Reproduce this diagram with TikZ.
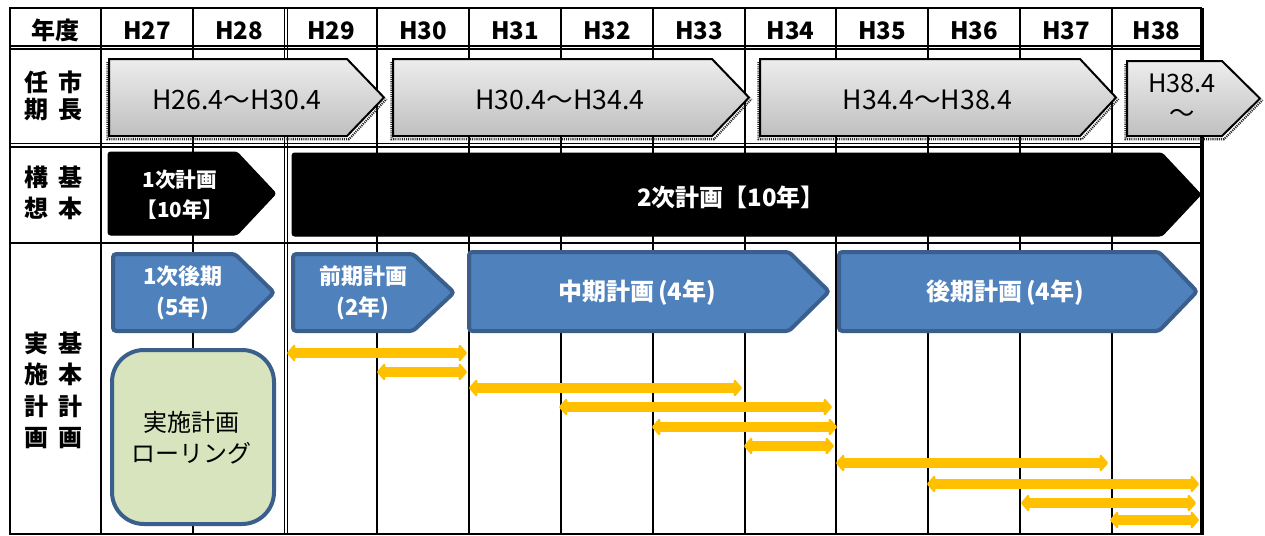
\documentclass[tikz,border=0pt]{standalone}
\usepackage{fontspec}
\setmainfont{Noto Sans CJK JP}
\usetikzlibrary{arrows.meta}
\definecolor{blfill}{HTML}{4F81BD}
\definecolor{bldraw}{HTML}{3A5F8D}
\definecolor{grfill}{HTML}{D7E4BD}
\definecolor{yel}{HTML}{FFC000}
\newcommand{\penta}[5]{(#1,#2) -- (#3,#2) -- (#4,{(#2+#5)/2}) -- (#3,#5) -- (#1,#5) -- cycle}
\newcommand{\pshadow}[5]{(#1-1.5,#2+3) -- (#1-1.5,#5+3.2) -- (#3+2,#5+3.2) -- (#4+2.5,{(#2+#5)/2+1.5})}
\begin{document}
\begin{tikzpicture}[x=0.75pt,y=-0.75pt,
  gridline/.style={line width=1pt, draw=black},
  hdr/.style={font=\bfseries\fontsize{18}{20}\selectfont},
  rowlbl/.style={font=\bfseries\fontsize{18}{#1}\selectfont, align=center},
  greyarrow/.style={draw=black, line width=1.5pt, top color=black!7, bottom color=black!25},
  greyshadow/.style={draw=black!85, line width=1.6pt, dash pattern=on 0.8pt off 0.8pt},
  greytext/.style={font=\fontsize{20}{22.5}\selectfont, align=center},
  blackarrow/.style={fill=black, draw=black, line width=0.75pt, rounded corners=2pt},
  whitetext/.style={text=white, font=\bfseries\fontsize{#1}{22.5}\selectfont, align=center},
  bluearrow/.style={fill=blfill, draw=bldraw, line width=3pt, rounded corners=2.5pt},
  bluetext/.style={text=white, font=\bfseries\fontsize{#1}{23}\selectfont, align=center},
  rollbox/.style={fill=grfill, draw=bldraw, line width=3pt, rounded corners=24pt},
  rolltext/.style={font=\fontsize{18}{23}\selectfont, align=center},
  yarrow/.style={draw=yel, line width=7.3pt, {Triangle[round,width=14.5pt,length=6.5pt]}-{Triangle[round,width=14.5pt,length=6.5pt]}},
]
\useasboundingbox (0,0) rectangle (1265,536);
\fill[white] (0,0) rectangle (1265,536);

% ---------- grid ----------
\foreach \x in {101,193,284.3,287.5,377,469,561,653,745,836,928,1020,1112}
  \draw[gridline] (\x,8) -- (\x,534);
\draw[line width=2pt] (10,46) -- (1201,46);
\draw[line width=0.8pt] (10,49) -- (1201,49);
\draw[line width=1.2pt] (10,143.5) -- (1201,143.5);
\draw[line width=1.2pt] (10,147) -- (1201,147);
\draw[line width=1.5pt] (10,242.5) -- (1201,242.5);
\draw[line width=2pt] (10,8) rectangle (1201,534);
\draw[line width=3pt] (1201.5,8) -- (1201.5,535);

% ---------- header ----------
\node[hdr] (hyear) at (55.5,30) {年度};
\foreach \n/\x in {27/147,28/239,29/331,30/423,31/515,32/607,33/699,34/790.5,35/882,36/974,37/1066,38/1156.5}
  \node[hdr] (h\n) at (\x,31) {H\n};

% ---------- row labels ----------
\node[rowlbl=20.25pt] (lmayor) at (54,95.5) {任\hspace{7.5pt}市\\期\hspace{7.5pt}長};
\node[rowlbl=23.25pt] (lbasic) at (54,193) {構\hspace{7.5pt}基\\想\hspace{7.5pt}本};
\node[rowlbl=23.5pt] (limpl) at (54,390.5) {実\hspace{7.5pt}基\\施\hspace{7.5pt}本\\計\hspace{7.5pt}計\\画\hspace{7.5pt}画};

% ---------- mayor terms (grey) ----------
\draw[greyshadow] \pshadow{109}{59}{347}{384}{136};
\path[greyarrow] \penta{109}{59}{347}{384}{136};
\draw[greyshadow] \pshadow{393}{59}{712}{749}{136};
\path[greyarrow] \penta{393}{59}{712}{749}{136};
\draw[greyshadow] \pshadow{760}{59}{1080}{1116}{136};
\path[greyarrow] \penta{760}{59}{1080}{1116}{136};
\draw[greyshadow] \pshadow{1127}{61}{1222}{1260}{136};
\path[greyarrow] \penta{1127}{61}{1222}{1260}{136};
\node[greytext] (t1) at (237,100) {H26.4～H30.4};
\node[greytext] (t2) at (560,100) {H30.4～H34.4};
\node[greytext] (t3) at (927.5,100) {H34.4～H38.4};
\node[greytext, font=\fontsize{19}{22.5}\selectfont] (t4) at (1182,98.5) {H38.4\\～};

% ---------- basic plan (black) ----------
\path[blackarrow] \penta{108}{152}{237}{276}{235};
\path[blackarrow] \penta{292}{153}{1162}{1201}{236};
\node[whitetext=15.5pt] (b1) at (180,195) {1次計画\\【10年】};
\node[whitetext=18pt] (b2) at (731,197) {2次計画【10年】};

% ---------- implementation plan (blue) ----------
\path[bluearrow] \penta{113}{254}{235}{274}{331};
\path[bluearrow] \penta{293}{254}{413}{454}{331};
\path[bluearrow] \penta{469}{252}{789}{829}{331};
\path[bluearrow] \penta{839}{252}{1159}{1197}{331};
\node[bluetext=16.5pt] (p1) at (183,292.5) {1次後期\\(5年)};
\node[bluetext=16.5pt] (p2) at (363,292.5) {前期計画\\(2年)};
\node[bluetext=18pt] (p3) at (637,293) {中期計画\,(4年)};
\node[bluetext=18pt] (p4) at (1005,293) {後期計画\,(4年)};

% ---------- rolling box ----------
\path[rollbox] (112,350) rectangle (274,524);
\node[rolltext] (roll) at (191,437.5) {実施計画\\ローリング};

% ---------- yellow spans ----------
\foreach \i/\a/\b/\y in {1/287/467/353, 2/377/467/372, 3/469/742/388, 4/559/832/407,
  5/652/837/427, 6/744/834/446, 7/836/1108/463, 8/927/1199/484, 9/1021/1196/503, 10/1110/1199/520}{
  \coordinate (s\i) at (\a,\y);
  \coordinate (e\i) at (\b,\y);
  \draw[yarrow] (s\i) -- (e\i);
}
\end{tikzpicture}
\end{document}
